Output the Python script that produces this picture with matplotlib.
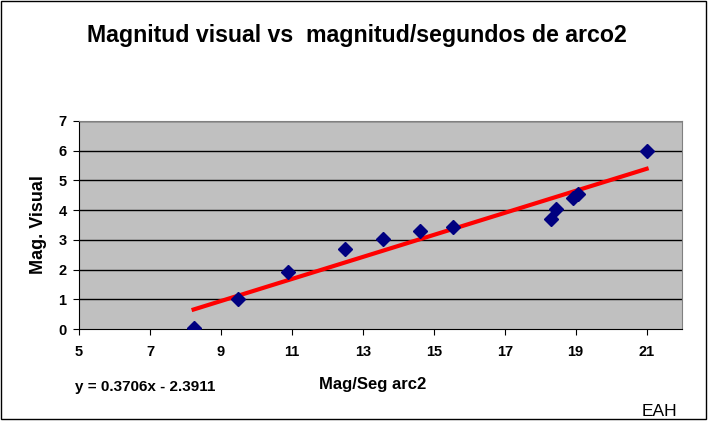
import numpy as np
import matplotlib.pyplot as plt

plt.rcParams['font.family'] = ['Liberation Sans', 'DejaVu Sans']

# datos
mag_seg = [8.23, 9.47, 10.9, 12.5, 13.58, 14.61, 15.55, 18.31, 18.45, 18.92, 19.07, 21.0]
mag_vis = [0.05, 1.0, 1.92, 2.7, 3.04, 3.30, 3.44, 3.69, 4.03, 4.42, 4.53, 6.0]
slope = 0.3706
intercept = -2.3911
x_ticks = [5, 7, 9, 11, 13, 15, 17, 19, 21]
y_ticks = [0, 1, 2, 3, 4, 5, 6, 7]

fig = plt.figure(figsize=(7.12, 4.23), dpi=100)
ax = fig.add_axes([0.111, 0.222, 0.847, 0.492])
ax.set_facecolor('#c0c0c0')

for yv in y_ticks[1:]:
    ax.axhline(yv, color='black', lw=1, zorder=1)

# linea de tendencia
xfit = np.array([min(mag_seg), max(mag_seg)])
ax.plot(xfit, slope * xfit + intercept, color='#ff0000', lw=3, zorder=2)
ax.plot(mag_seg, mag_vis, 'D', color='#000080', ms=7, zorder=3)

ax.set_xlim(5, 22)
ax.set_ylim(0, 7)
ax.set_xticks(x_ticks)
ax.set_yticks(y_ticks)
ax.tick_params(labelsize=10.5, length=4, color='black')
ax.tick_params(axis='x', pad=7.5)
ax.tick_params(axis='y', pad=5)
for lbl in ax.get_xticklabels() + ax.get_yticklabels():
    lbl.set_fontweight('bold')
for s in ax.spines.values():
    s.set_color('#808080')
ax.spines['left'].set_color('black')
ax.spines['bottom'].set_color('black')

ax.set_ylabel('Mag. Visual', fontsize=13, fontweight='bold', labelpad=8)
fig.text(0.5007, 0.901, 'Magnitud visual vs  magnitud/segundos de arco2',
         ha='center', va='baseline', fontsize=16.7, fontweight='bold')
fig.text(0.524, 0.0804, 'Mag/Seg arc2', ha='center', va='baseline', fontsize=12, fontweight='bold')
fig.text(0.105, 0.0757, 'y = 0.3706x - 2.3911', ha='left', va='baseline', fontsize=11, fontweight='bold')
fig.text(0.926, 0.0165, 'EAH', ha='center', va='baseline', fontsize=12.5)

fig.add_artist(plt.Rectangle((0.0014, 0.0095), 0.990, 0.988, transform=fig.transFigure,
                             fill=False, edgecolor='black', lw=1))

plt.savefig('out.png', dpi=100)
